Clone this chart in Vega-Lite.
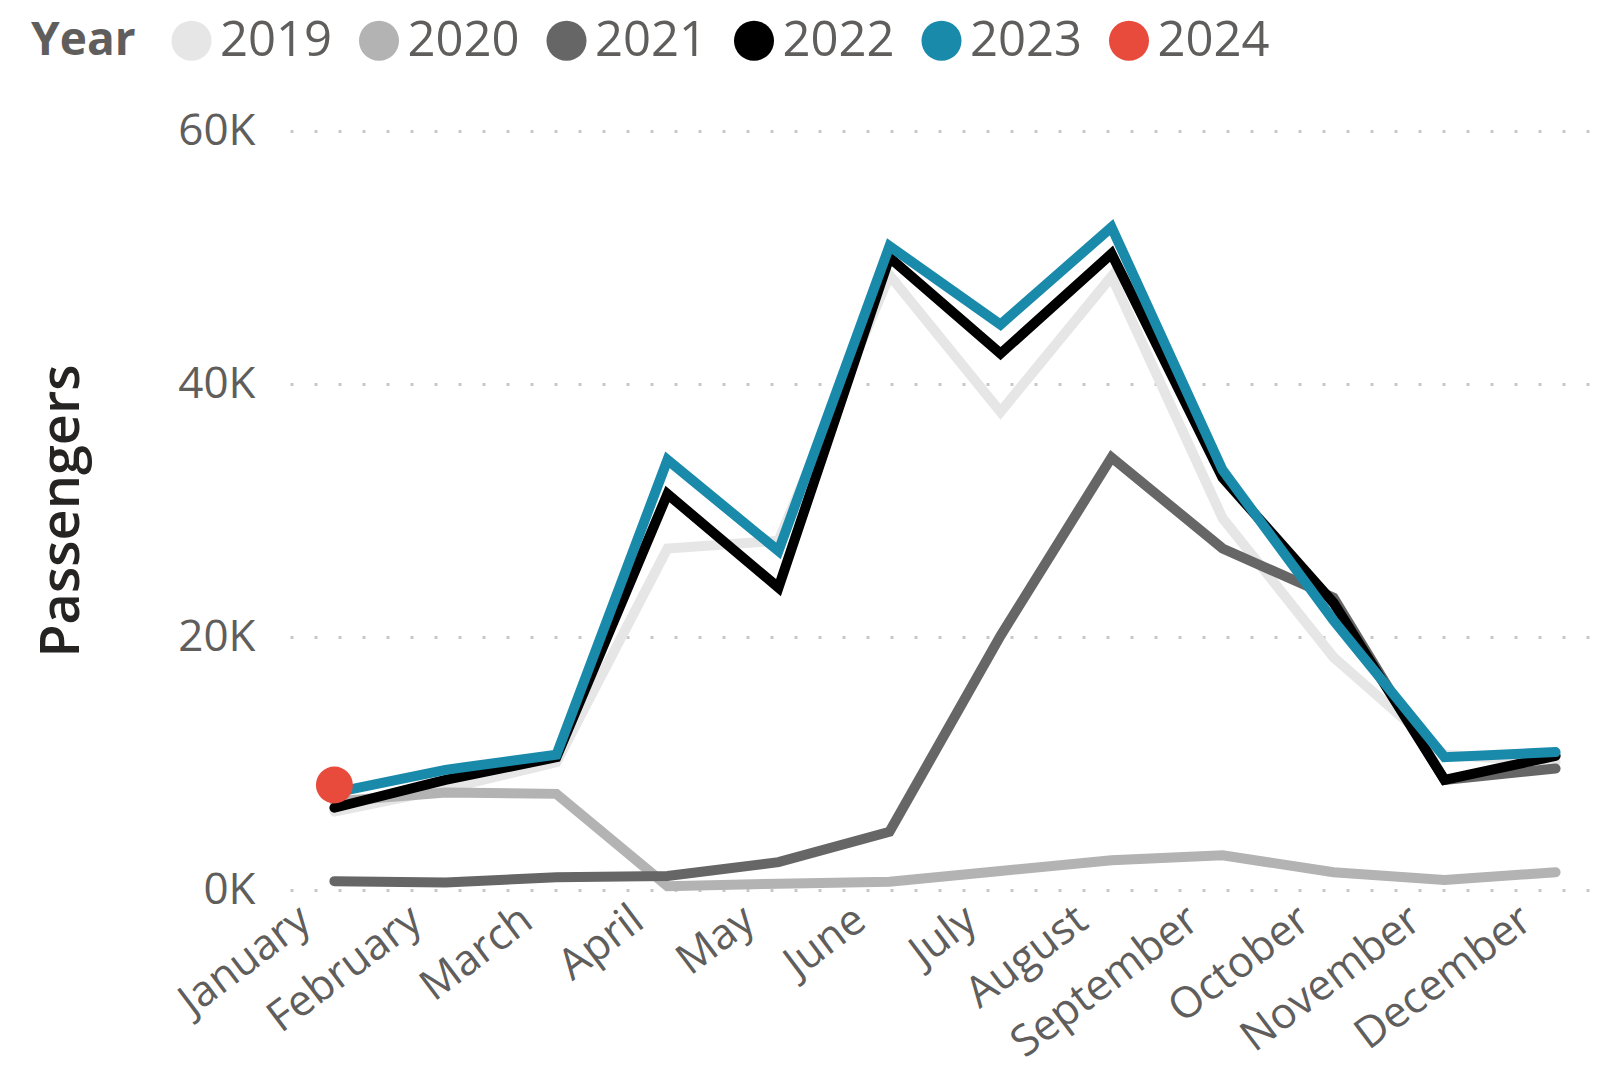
{
  "$schema": "https://vega.github.io/schema/vega-lite/v6.json",
  "autosize": "none",
  "width": 1310,
  "height": 759,
  "padding": {"left": 290, "top": 131, "right": 8, "bottom": 184},
  "background": "white",
  "config": {
    "view": {"stroke": null},
    "font": "Open Sans"
  },
  "data": {
    "values": [
      {"month": "January", "year": "2019", "value": 6200},
      {"month": "February", "year": "2019", "value": 8000},
      {"month": "March", "year": "2019", "value": 10100},
      {"month": "April", "year": "2019", "value": 27000},
      {"month": "May", "year": "2019", "value": 27600},
      {"month": "June", "year": "2019", "value": 48600},
      {"month": "July", "year": "2019", "value": 37800},
      {"month": "August", "year": "2019", "value": 48500},
      {"month": "September", "year": "2019", "value": 29400},
      {"month": "October", "year": "2019", "value": 18400},
      {"month": "November", "year": "2019", "value": 10700},
      {"month": "December", "year": "2019", "value": 10100},

      {"month": "January", "year": "2020", "value": 7000},
      {"month": "February", "year": "2020", "value": 7700},
      {"month": "March", "year": "2020", "value": 7600},
      {"month": "April", "year": "2020", "value": 300},
      {"month": "May", "year": "2020", "value": 500},
      {"month": "June", "year": "2020", "value": 650},
      {"month": "July", "year": "2020", "value": 1500},
      {"month": "August", "year": "2020", "value": 2350},
      {"month": "September", "year": "2020", "value": 2750},
      {"month": "October", "year": "2020", "value": 1400},
      {"month": "November", "year": "2020", "value": 800},
      {"month": "December", "year": "2020", "value": 1400},

      {"month": "January", "year": "2021", "value": 700},
      {"month": "February", "year": "2021", "value": 600},
      {"month": "March", "year": "2021", "value": 1000},
      {"month": "April", "year": "2021", "value": 1100},
      {"month": "May", "year": "2021", "value": 2200},
      {"month": "June", "year": "2021", "value": 4600},
      {"month": "July", "year": "2021", "value": 20100},
      {"month": "August", "year": "2021", "value": 34200},
      {"month": "September", "year": "2021", "value": 27000},
      {"month": "October", "year": "2021", "value": 23100},
      {"month": "November", "year": "2021", "value": 8700},
      {"month": "December", "year": "2021", "value": 9600},

      {"month": "January", "year": "2022", "value": 6500},
      {"month": "February", "year": "2022", "value": 8700},
      {"month": "March", "year": "2022", "value": 10500},
      {"month": "April", "year": "2022", "value": 31300},
      {"month": "May", "year": "2022", "value": 23900},
      {"month": "June", "year": "2022", "value": 50000},
      {"month": "July", "year": "2022", "value": 42400},
      {"month": "August", "year": "2022", "value": 50300},
      {"month": "September", "year": "2022", "value": 32600},
      {"month": "October", "year": "2022", "value": 22700},
      {"month": "November", "year": "2022", "value": 8700},
      {"month": "December", "year": "2022", "value": 10600},

      {"month": "January", "year": "2023", "value": 7700},
      {"month": "February", "year": "2023", "value": 9500},
      {"month": "March", "year": "2023", "value": 10700},
      {"month": "April", "year": "2023", "value": 34000},
      {"month": "May", "year": "2023", "value": 26800},
      {"month": "June", "year": "2023", "value": 50900},
      {"month": "July", "year": "2023", "value": 44700},
      {"month": "August", "year": "2023", "value": 52400},
      {"month": "September", "year": "2023", "value": 33200},
      {"month": "October", "year": "2023", "value": 21300},
      {"month": "November", "year": "2023", "value": 10500},
      {"month": "December", "year": "2023", "value": 10900},

      {"month": "January", "year": "2024", "value": 8300}
    ]
  },
  "encoding": {
    "x": {
      "field": "month",
      "type": "nominal",
      "sort": ["January","February","March","April","May","June","July","August","September","October","November","December"],
      "scale": {"type": "point", "padding": 0.4},
      "axis": {
        "title": null,
        "domain": false,
        "ticks": false,
        "grid": false,
        "labelAngle": -37,
        "labelFontSize": 43,
        "labelColor": "#605e5c",
        "labelPadding": 8,
        "labelOffset": -42,
        "labelLimit": 0,
        "labelOverlap": false,
        "labelFont": "Open Sans"
      }
    },
    "y": {
      "field": "value",
      "type": "quantitative",
      "scale": {"domain": [0, 60000], "nice": false},
      "axis": {
        "title": "Passengers",
        "titleFontSize": 54,
        "titleFontWeight": 600,
        "titleColor": "#252423",
        "titleFont": "Open Sans",
        "titleX": -228,
        "titleY": 379.5,
        "titleAngle": -90,
        "titleAlign": "center",
        "titleBaseline": "middle",
        "values": [0, 20000, 40000, 60000],
        "labelExpr": "(datum.value / 1000) + 'K'",
        "labelFontSize": 44,
        "labelColor": "#605e5c",
        "labelPadding": 35,
        "labelFont": "Open Sans",
        "domain": false,
        "ticks": false,
        "grid": true,
        "gridColor": "#c8c8c8",
        "gridWidth": 3,
        "gridDash": [3, 21]
      }
    },
    "color": {
      "field": "year",
      "type": "nominal",
      "scale": {
        "domain": ["2019","2020","2021","2022","2023","2024"],
        "range": ["#e6e6e6","#b3b3b3","#666666","#000000","#1a8aab","#e84b3c"]
      },
      "legend": {
        "title": "Year",
        "orient": "none",
        "direction": "horizontal",
        "legendX": -259,
        "legendY": -115,
        "titleOrient": "left",
        "titleFontSize": 46,
        "titleFontWeight": "bold",
        "titleColor": "#605e5c",
        "titleFont": "Open Sans",
        "titlePadding": 31,
        "titleBaseline": "middle",
        "labelFontSize": 49,
        "labelColor": "#605e5c",
        "labelFont": "Open Sans",
        "labelOffset": 4,
        "columnPadding": 21.5,
        "symbolType": "circle",
        "symbolSize": 1600,
        "symbolStrokeWidth": 0,
        "encode": {
          "symbols": {
            "update": {
              "fill": {"scale": "color", "field": "value"},
              "strokeWidth": {"value": 0},
              "opacity": {"value": 1}
            }
          }
        }
      }
    }
  },
  "layer": [
    {
      "transform": [{"filter": "datum.year != '2024'"}],
      "mark": {"type": "line", "strokeWidth": 10, "strokeCap": "round"}
    },
    {
      "transform": [{"filter": "datum.year == '2024'"}],
      "mark": {"type": "circle", "size": 1369, "opacity": 1}
    }
  ]
}
